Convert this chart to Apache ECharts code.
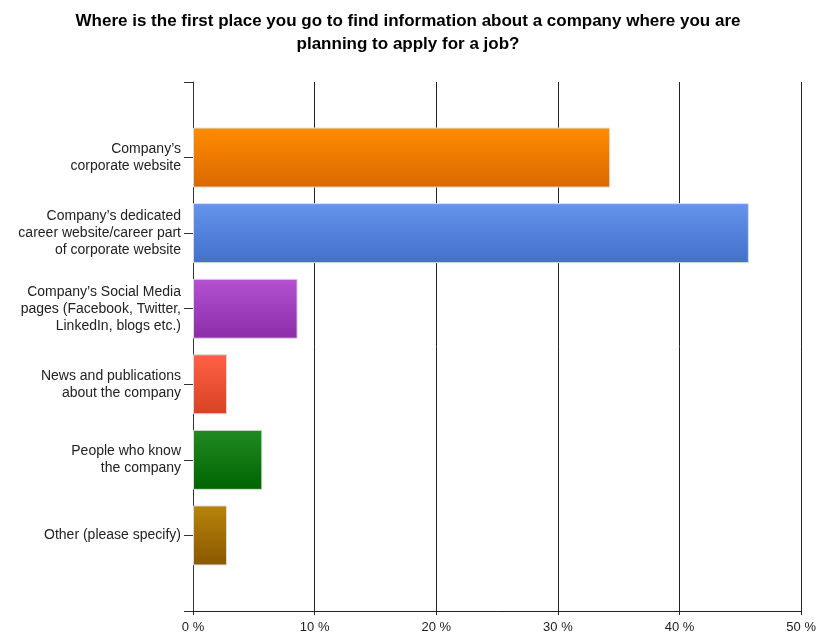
<!DOCTYPE html>
<html>
<head>
<meta charset="utf-8">
<script src="https://cdn.jsdelivr.net/npm/echarts@6/dist/echarts.min.js"></script>
<style>
  html, body { margin: 0; padding: 0; background: #fff; }
  #chart { width: 819px; height: 636px; }
</style>
</head>
<body>
<div id="chart"></div>
<script>
// Survey answers, top to bottom
const categories = [
  'Company’s\ncorporate website',
  'Company’s dedicated\ncareer website/career part\nof corporate website',
  'Company’s Social Media\npages (Facebook, Twitter,\nLinkedIn, blogs etc.)',
  'News and publications\nabout the company',
  'People who know\nthe company',
  'Other (please specify)'
];
// Share of respondents, %
const shares = [34.3, 45.7, 8.6, 2.8, 5.7, 2.8];
// Gradient stops per bar: [top, bottom]
const barColors = [
  ['#FF8C00', '#DA6800'],
  ['#6494EC', '#4470CA'],
  ['#B452D2', '#8C2CA8'],
  ['#FF6046', '#D84324'],
  ['#218A22', '#006400'],
  ['#B7840B', '#8A5800']
];
const xTicks = [0, 10, 20, 30, 40, 50];

const FONT = '"Liberation Sans", Arial, sans-serif';

// One empty slot above and below so categories sit between the axis ends
const axisCats = [''].concat(categories, ['']);
const barData = [null].concat(shares.map((v, i) => ({
  value: v,
  itemStyle: {
    color: new echarts.graphic.LinearGradient(0, 0, 0, 1, [
      { offset: 0, color: barColors[i][0] },
      { offset: 1, color: barColors[i][1] }
    ])
  }
})), [null]);

const chart = echarts.init(document.getElementById('chart'));
chart.setOption({
  animation: false,
  backgroundColor: '#fff',
  title: {
    text: 'Where is the first place you go to find information about a company where you are\nplanning to apply for a job?',
    left: 403,
    top: 5,
    textAlign: 'center',
    textStyle: {
      fontFamily: FONT,
      fontSize: 17,
      fontWeight: 'bold',
      color: '#000',
      lineHeight: 23
    }
  },
  grid: { left: 193, right: 15, top: 82, bottom: 25, containLabel: false },
  xAxis: {
    type: 'value',
    min: xTicks[0],
    max: xTicks[xTicks.length - 1],
    interval: 10,
    axisLine: { show: true, lineStyle: { color: '#222', width: 1 } },
    axisTick: { show: true, length: 4, lineStyle: { color: '#222' } },
    splitLine: { show: true, lineStyle: { color: '#222', width: 1 } },
    axisLabel: {
      formatter: '{value} %',
      fontFamily: FONT,
      fontSize: 13,
      color: '#222',
      margin: 10
    }
  },
  yAxis: {
    type: 'category',
    inverse: true,
    boundaryGap: false,
    data: axisCats,
    axisLine: { show: true, lineStyle: { color: '#333', width: 1 } },
    axisTick: { show: true, length: 9, alignWithLabel: true, lineStyle: { color: '#333' } },
    splitLine: { show: false },
    axisLabel: {
      interval: 0,
      margin: 12,
      fontFamily: FONT,
      fontSize: 14,
      lineHeight: 17,
      color: '#222',
      align: 'right'
    }
  },
  series: [{
    type: 'bar',
    data: barData,
    barWidth: 60,
    itemStyle: { borderColor: '#DCDCDC', borderWidth: 1 }
  }]
});
</script>
</body>
</html>
